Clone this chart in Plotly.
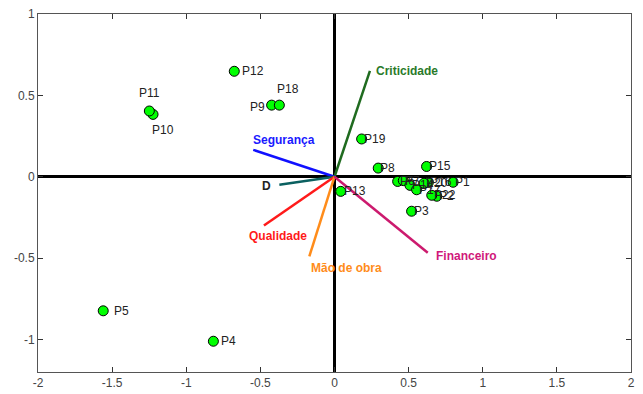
import plotly.graph_objects as go

# --- data ---
point_names = ["P1", "P2", "P3", "P4", "P5", "P6", "P7", "P8", "P9", "P10",
               "P11", "P12", "P13", "P14", "P15", "P16", "P17", "P18", "P19", "P20", "P22"]
point_x = [0.80, 0.69, 0.52, -0.817, -1.56, 0.426, 0.464, 0.295, -0.424, -1.224,
           -1.249, -0.676, 0.042, 0.509, 0.621, 0.633, 0.554, -0.372, 0.183, 0.604, 0.656]
point_y = [-0.034, -0.12, -0.212, -1.011, -0.824, -0.029, -0.024, 0.053, 0.44, 0.383,
           0.404, 0.648, -0.09, -0.053, 0.063, -0.035, -0.08, 0.44, 0.232, -0.04, -0.114]

vector_names = ["Criticidade", "Segurança", "D", "Qualidade", "Mão de obra", "Financeiro"]
vector_x = [0.239, -0.548, -0.372, -0.476, -0.17, 0.629]
vector_y = [0.65, 0.165, -0.049, -0.30, -0.49, -0.467]
vector_line_colors = ["#1f6b1f", "#1010ff", "#0b6060", "#ff1a1a", "#ff8c1a", "#cc1a6e"]
vector_text_colors = ["#2a7a2a", "#1a1aff", "#222222", "#ff1a1a", "#ff8c1a", "#d0187a"]

x_ticks = [-2, -1.5, -1, -0.5, 0, 0.5, 1, 1.5, 2]
y_ticks = [-1, -0.5, 0, 0.5, 1]

FONT = "Liberation Sans, Arial"

fig = go.Figure()

for name, vx, vy, lc in zip(vector_names, vector_x, vector_y, vector_line_colors):
    fig.add_trace(go.Scatter(x=[0, vx], y=[0, vy], mode="lines",
                             line=dict(color=lc, width=2.5), hoverinfo="skip",
                             showlegend=False))

fig.add_trace(go.Scatter(
    x=point_x, y=point_y, mode="markers", text=point_names,
    marker=dict(size=10, color="#00ff00", line=dict(color="#000000", width=1)),
    showlegend=False, cliponaxis=False))

# point label placement (styling only)
default_lab = dict(xanchor="left", yanchor="middle", xshift=0, yshift=0)
point_lab = {
    "P4": dict(xanchor="left", yanchor="middle", xshift=6, yshift=0),
    "P5": dict(xanchor="left", yanchor="middle", xshift=9, yshift=0),
    "P12": dict(xanchor="left", yanchor="middle", xshift=6, yshift=0),
    "P9": dict(xanchor="right", yanchor="middle", xshift=-5, yshift=-2),
    "P18": dict(xanchor="left", yanchor="bottom", xshift=-4, yshift=7),
    "P11": dict(xanchor="center", yanchor="bottom", xshift=0, yshift=9),
    "P10": dict(xanchor="left", yanchor="top", xshift=-3, yshift=-7),
    "P13": dict(xanchor="left", yanchor="middle", xshift=1, yshift=0),
    "P8": dict(xanchor="left", yanchor="middle", xshift=0, yshift=0),
}
for n, px, py in zip(point_names, point_x, point_y):
    fig.add_annotation(x=px, y=py, text=n, showarrow=False,
                       font=dict(family=FONT, size=12, color="#222222"),
                       **point_lab.get(n, default_lab))

# vector label placement (styling only)
anchors = {
    "Criticidade": dict(xanchor="left", yanchor="middle", xshift=4, yshift=0),
    "Segurança": dict(xanchor="left", yanchor="bottom", xshift=-2, yshift=1),
    "D": dict(xanchor="right", yanchor="middle", xshift=-6, yshift=-1),
    "Qualidade": dict(xanchor="center", yanchor="top", xshift=14, yshift=-1),
    "Mão de obra": dict(xanchor="left", yanchor="top", xshift=0, yshift=-3),
    "Financeiro": dict(xanchor="left", yanchor="middle", xshift=6, yshift=-3),
}
for name, vx, vy, tc in zip(vector_names, vector_x, vector_y, vector_text_colors):
    fig.add_annotation(x=vx, y=vy, text="<b>%s</b>" % name, showarrow=False,
                       font=dict(family=FONT, size=12, color=tc),
                       **anchors[name])

axis_common = dict(showgrid=False, zeroline=True, zerolinecolor="#000000", zerolinewidth=3,
                   showline=True, linecolor="#555555", linewidth=1, mirror="ticks",
                   ticks="inside", ticklen=5, tickcolor="#333333", automargin=False,
                   tickfont=dict(family=FONT, size=12, color="#444444"))

fig.update_xaxes(range=[-2, 2], tickvals=x_ticks, ticktext=[str(v) for v in x_ticks], **axis_common)
fig.update_yaxes(range=[-1.2, 1], tickvals=y_ticks, ticktext=[str(v) for v in y_ticks], **axis_common)

fig.update_layout(width=643, height=394, margin=dict(l=38, r=12, t=14, b=22),
                  plot_bgcolor="white", paper_bgcolor="white")

fig.write_html("out.html", config={"displayModeBar": False},
               post_script="document.body.style.margin='0';document.body.style.overflow='hidden';")
